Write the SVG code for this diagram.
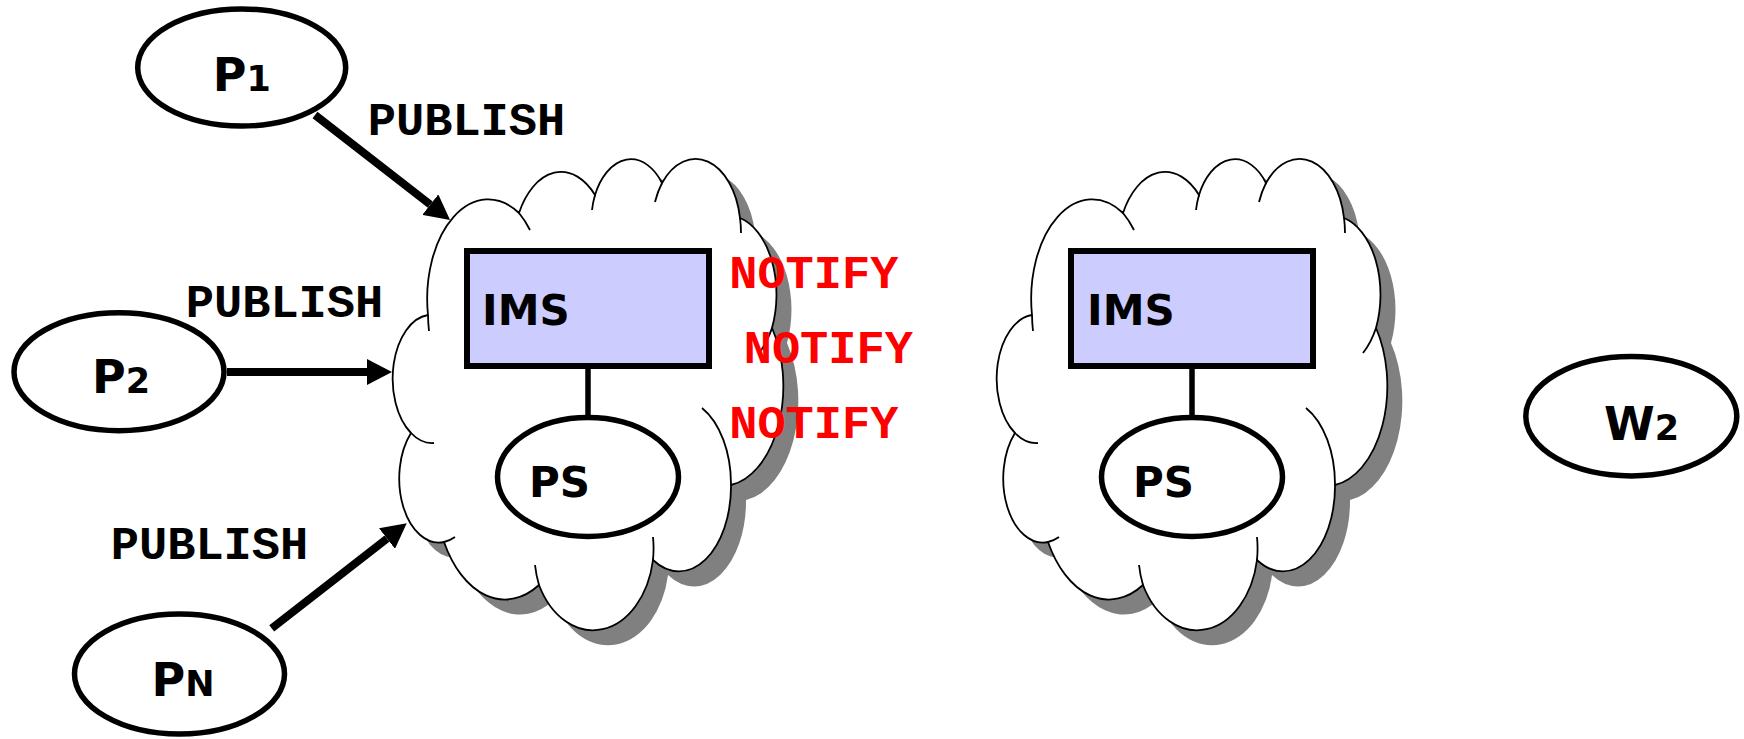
<svg xmlns="http://www.w3.org/2000/svg" xmlns:xlink="http://www.w3.org/1999/xlink" width="1744" height="739" viewBox="0 0 1744 739">
<style>
.shadow{fill:#808080;stroke:none}
.cloud{fill:#ffffff;stroke:#000;stroke-width:1.8}
.tail{fill:none;stroke:#000;stroke-width:1.8}
.node{fill:#ffffff;stroke:#000;stroke-width:5.5}
.ims{fill:#CCCCFF;stroke:#000;stroke-width:6}
.lbl{font-family:"DejaVu Sans","Verdana",sans-serif;font-weight:bold;fill:#000}
.mono{font-family:"Liberation Mono","Courier New",monospace;font-weight:bold;font-size:47px;text-anchor:middle}
.pub{fill:#000}
.notify{fill:#FF0000}
.arrow{stroke:#000;stroke-width:8;fill:none}
.link{stroke:#000;stroke-width:5.5}
</style>
<defs>
<path id="cloudShape" d="M428,315 A61,99.5 0 0 1 519,213 A48,79 0 0 1 595,195 A40,64 0 0 1 662,183 A45,71.5 0 0 1 740,218 A48,79 0 0 1 772,328 A61,100 0 0 1 731,485 A52,85 0 0 1 653,560 A61,85 0 0 1 539,585 A70,114 0 0 1 444,542 A39.5,64 0 0 1 411,433 A39,64 0 0 1 428,315 Z"/>
<path id="cloudTails" d="M429,331 A61,99.5 0 0 1 428,315 M519,213 A61,99.5 0 0 1 530,230 M592,210 A40,64 0 0 1 595,195 M655,202 A45,71.5 0 0 1 662,183 M740,218 A45,71.5 0 0 1 741,233 M772,328 A48,79 0 0 1 759,353 M702,408 A52,85 0 0 1 731,485 M653,537 A61,85 0 0 1 653,560 M539,585 A61,85 0 0 1 535,565 M455,537 A39.5,64 0 0 1 444,542 M434,443 A39,64 0 0 1 411,433"/>
<marker id="head" markerUnits="userSpaceOnUse" markerWidth="26" markerHeight="26" refX="0" refY="13" orient="auto">
<path d="M0,0 L25,13 L0,26 Z" fill="#000"/>
</marker>
</defs>

<g id="cloud-left">
<use xlink:href="#cloudShape" class="shadow" transform="translate(15,15)"/>
<use xlink:href="#cloudShape" class="cloud"/>
<use xlink:href="#cloudTails" class="tail"/>
</g>
<g id="cloud-right" transform="translate(604,0)">
<use xlink:href="#cloudShape" class="shadow" transform="translate(15,15)"/>
<use xlink:href="#cloudShape" class="cloud"/>
<use xlink:href="#cloudTails" class="tail"/>
</g>

<g id="connectors">
<line class="arrow" x1="315" y1="115" x2="430.3" y2="204.6" marker-end="url(#head)"/>
<line class="arrow" x1="227" y1="372" x2="367" y2="372" marker-end="url(#head)"/>
<line class="arrow" x1="271.7" y1="628.3" x2="387" y2="538.6" marker-end="url(#head)"/>
<line class="link" x1="588" y1="369" x2="588" y2="418"/>
<line class="link" x1="1192" y1="369" x2="1192" y2="418"/>
</g>

<g id="ims-left">
<rect class="ims" x="467" y="251" width="242" height="115"/>
<text class="lbl" x="482" y="325" font-size="42">IMS</text>
</g>
<g id="ps-left">
<ellipse class="node" cx="588" cy="477" rx="90.5" ry="59.5"/>
<text class="lbl" x="529" y="497" font-size="42">PS</text>
</g>
<g id="ims-right">
<rect class="ims" x="1071" y="251" width="242" height="115"/>
<text class="lbl" x="1087" y="325" font-size="42">IMS</text>
</g>
<g id="ps-right">
<ellipse class="node" cx="1192" cy="477" rx="90.5" ry="59.5"/>
<text class="lbl" x="1133" y="497" font-size="42">PS</text>
</g>

<g id="p1">
<ellipse class="node" cx="241.7" cy="67.5" rx="104" ry="58.5"/>
<text class="lbl" x="241.7" y="91" text-anchor="middle"><tspan font-size="46">P</tspan><tspan font-size="35">1</tspan></text>
</g>
<g id="p2">
<ellipse class="node" cx="119" cy="371.7" rx="105" ry="59"/>
<text class="lbl" x="121" y="393" text-anchor="middle"><tspan font-size="46">P</tspan><tspan font-size="35">2</tspan></text>
</g>
<g id="pn">
<ellipse class="node" cx="179.5" cy="674" rx="105" ry="60"/>
<text class="lbl" x="183" y="696" text-anchor="middle"><tspan font-size="46">P</tspan><tspan font-size="35">N</tspan></text>
</g>
<g id="w2">
<ellipse class="node" cx="1631.3" cy="416.2" rx="105.5" ry="59.7"/>
<text class="lbl" x="1641.5" y="440" text-anchor="middle"><tspan font-size="46">W</tspan><tspan font-size="35">2</tspan></text>
</g>

<g id="labels">
<text class="mono pub" x="466.5" y="135">PUBLISH</text>
<text class="mono pub" x="284.5" y="317">PUBLISH</text>
<text class="mono pub" x="209.5" y="559">PUBLISH</text>
<text class="mono notify" x="813.8" y="288">NOTIFY</text>
<text class="mono notify" x="828.3" y="363">NOTIFY</text>
<text class="mono notify" x="813.8" y="438">NOTIFY</text>
</g>
</svg>
